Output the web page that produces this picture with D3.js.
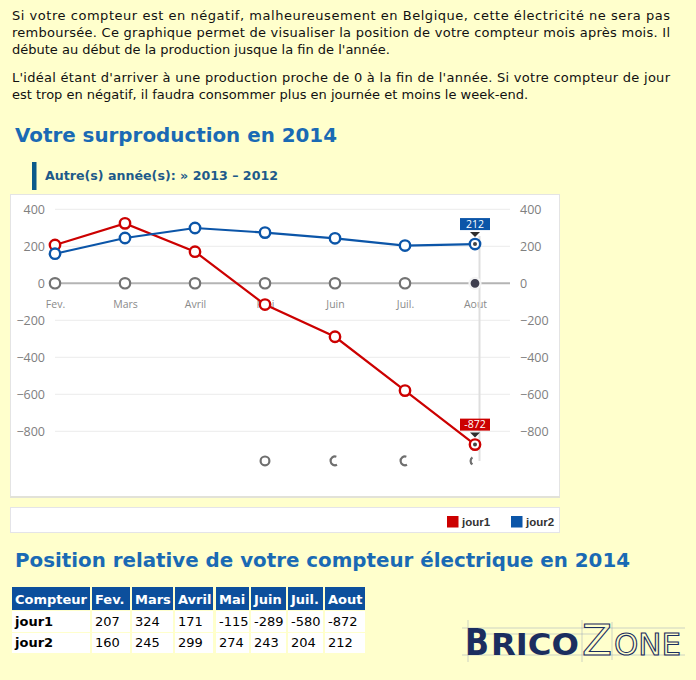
<!DOCTYPE html>
<html lang="fr">
<head>
  <meta charset="UTF-8">
  <title>Votre surproduction en 2014</title>
  <script src="https://d3js.org/d3.v7.min.js"></script>
  <style type="text/css">
    body { margin: 0; background: #ffffcc; }
    svg { display: block; }
  </style>
</head>
<body>
<script>
  // data
  var months = ['Fev.', 'Mars', 'Avril', 'Mai', 'Juin', 'Juil.', 'Aout'];
  var jour1 = [207, 324, 171, -115, -289, -580, -872];
  var jour2 = [160, 245, 299, 274, 243, 204, 212];
  var zeroSeries = [0, 0, 0, 0, 0, 0, 0];
  var yTicks = [400, 200, 0, -200, -400, -600, -800];
  var seriesNames = ['jour1', 'jour2'];
  var seriesColors = ['#cc0000', '#0b55a8'];
  // stray markers drawn under the plot in the original
  var strayMonths = ['Mai', 'Juin', 'Juil.', 'Aout'];
  var strayValue = -960;

  var introLines = [
    {text: 'Si votre compteur est en négatif, malheureusement en Belgique, cette électricité ne sera pas', justify: true},
    {text: 'remboursée. Ce graphique permet de visualiser la position de votre compteur mois après mois. Il', justify: true},
    {text: 'débute au début de la production jusque la fin de l\'année.', justify: false},
    {text: 'L\'idéal étant d\'arriver à une production proche de 0 à la fin de l\'année. Si votre compteur de jour', justify: true},
    {text: 'est trop en négatif, il faudra consommer plus en journée et moins le week-end.', justify: false}
  ];

  function main () {
    var W = 696, H = 680;
    var svg = d3.select('body').append('svg')
      .attr('width', W)
      .attr('height', H);

    svg.append('rect').attr('width', W).attr('height', H).attr('fill', '#ffffcc');

    // intro text
    var lineY = [20, 37, 54, 82, 99];
    svg.append('g')
      .style('font-family', '"DejaVu Sans", Verdana, sans-serif')
      .style('font-size', '13px')
      .attr('fill', '#111')
      .selectAll('text')
      .data(introLines)
      .enter()
      .append('text')
      .attr('x', 12)
      .attr('y', function (d, i) { return lineY[i]; })
      .attr('textLength', function (d) { return d.justify ? 658 : null; })
      .attr('lengthAdjust', 'spacing')
      .text(function (d) { return d.text; });

    // headings
    var heading = function (txt, y, len) {
      svg.append('text')
        .attr('x', 15).attr('y', y)
        .attr('textLength', len).attr('lengthAdjust', 'spacingAndGlyphs')
        .style('font-family', '"DejaVu Sans", Verdana, sans-serif')
        .style('font-size', '19.5px').style('font-weight', 'bold')
        .attr('fill', '#1a6ab4')
        .text(txt);
    };
    heading('Votre surproduction en 2014', 142, 322);
    heading('Position relative de votre compteur électrique en 2014', 567, 615);

    svg.append('rect').attr('x', 32).attr('y', 162).attr('width', 4.5).attr('height', 28).attr('fill', '#0b5a8a');
    svg.append('text')
      .attr('x', 45).attr('y', 180)
      .attr('textLength', 233).attr('lengthAdjust', 'spacingAndGlyphs')
      .style('font-family', '"DejaVu Sans", Verdana, sans-serif')
      .style('font-size', '13px').style('font-weight', 'bold')
      .attr('fill', '#1d5a8a')
      .text('Autre(s) année(s): » 2013 \u2013 2012');

    // chart panel
    svg.append('rect')
      .attr('x', 10.5).attr('y', 194.5).attr('width', 549).attr('height', 302)
      .attr('fill', '#fff').attr('stroke', '#e4e4e4');
    svg.append('line')
      .attr('x1', 10).attr('x2', 560).attr('y1', 497).attr('y2', 497)
      .attr('stroke', '#e2e2d8').attr('stroke-width', 2);

    var xScale = d3.scalePoint().domain(months).range([55, 475]);
    var yScale = d3.scaleLinear().domain([-800, 400]).range([431.3, 209.3]);
    var GRID_L = 55, GRID_R = 510;

    var chart = svg.append('g');

    // grid
    chart.selectAll('line.grid')
      .data(yTicks)
      .enter()
      .append('line')
      .attr('class', 'grid')
      .attr('x1', GRID_L).attr('x2', GRID_R)
      .attr('y1', function (d) { return yScale(d); })
      .attr('y2', function (d) { return yScale(d); })
      .attr('stroke', function (d) { return d === 0 ? '#b4b4b4' : '#ececec'; })
      .attr('stroke-width', function (d) { return d === 0 ? 2 : 1; });

    // y labels left & right
    var axisFont = '"Open Sans", "Liberation Sans", sans-serif';
    var leftAxis = chart.append('g')
      .attr('transform', 'translate(45,0)')
      .call(d3.axisLeft(yScale).tickValues(yTicks).tickSize(0).tickPadding(0).tickFormat(d3.format('d')));
    var rightAxis = chart.append('g')
      .attr('transform', 'translate(520,0)')
      .call(d3.axisRight(yScale).tickValues(yTicks).tickSize(0).tickPadding(0).tickFormat(d3.format('d')));
    [leftAxis, rightAxis].forEach(function (ax) {
      ax.select('.domain').remove();
      ax.selectAll('text')
        .style('font-family', axisFont)
        .style('font-size', '12.5px')
        .attr('fill', '#808080');
    });

    // month labels
    var xAxis = chart.append('g')
      .attr('transform', 'translate(0,' + (yScale(0) + 17) + ')')
      .call(d3.axisBottom(xScale).tickSize(0).tickPadding(0));
    xAxis.select('.domain').remove();
    xAxis.selectAll('text')
      .style('font-family', axisFont)
      .style('font-size', '10.5px')
      .attr('fill', '#8a8a8a');

    // crosshair on the hovered month
    var hover = months.length - 1;
    chart.append('line')
      .attr('x1', xScale(months[hover]) + 4.5).attr('x2', xScale(months[hover]) + 4.5)
      .attr('y1', 236).attr('y2', 461)
      .attr('stroke', '#dedede').attr('stroke-width', 2);

    // stray markers under the plot
    var strayArcs = [[0, 2 * Math.PI], [0.85 * Math.PI, 2.1 * Math.PI], [0.85 * Math.PI, 2.1 * Math.PI], [1.2 * Math.PI, 1.8 * Math.PI]];
    chart.selectAll('path.stray')
      .data(strayMonths)
      .enter()
      .append('path')
      .attr('class', 'stray')
      .attr('transform', function (d) {
        return 'translate(' + xScale(d) + ',' + yScale(strayValue) + ')';
      })
      .attr('d', function (d, i) {
        return d3.arc().innerRadius(3.3).outerRadius(5.5)
          .startAngle(strayArcs[i][0]).endAngle(strayArcs[i][1])();
      })
      .attr('fill', '#6f6f6f');

    // zero series markers
    chart.selectAll('circle.zero')
      .data(zeroSeries)
      .enter()
      .append('circle')
      .attr('class', 'zero')
      .attr('cx', function (d, i) { return xScale(months[i]); })
      .attr('cy', function (d) { return yScale(d); })
      .attr('r', function (d, i) { return i === hover ? 5.5 : 5.2; })
      .attr('fill', function (d, i) { return i === hover ? '#3e3e4e' : '#fff'; })
      .attr('stroke', function (d, i) { return i === hover ? '#f4f4f4' : '#737373'; })
      .attr('stroke-width', 2.2);

    // lines
    var allSeries = [jour1, jour2];
    var line = d3.line()
      .x(function (d, i) { return xScale(months[i]); })
      .y(function (d) { return yScale(d); });

    allSeries.forEach(function (vals, s) {
      chart.append('path')
        .datum(vals)
        .attr('d', line)
        .attr('fill', 'none')
        .attr('stroke', seriesColors[s])
        .attr('stroke-width', 2.2);
    });
    allSeries.forEach(function (vals, s) {
      var g = chart.append('g');
      g.selectAll('circle')
        .data(vals)
        .enter()
        .append('circle')
        .attr('cx', function (d, i) { return xScale(months[i]); })
        .attr('cy', function (d) { return yScale(d); })
        .attr('r', 5.2)
        .attr('fill', '#fff')
        .attr('stroke', seriesColors[s])
        .attr('stroke-width', 2.4);
      // hovered point dot
      g.append('circle')
        .attr('cx', xScale(months[hover]))
        .attr('cy', yScale(vals[hover]))
        .attr('r', 2)
        .attr('fill', '#444');

      // tooltip
      var tx = xScale(months[hover]), ty = yScale(vals[hover]);
      g.append('rect')
        .attr('x', tx - 15).attr('y', ty - 26)
        .attr('width', 30).attr('height', 12)
        .attr('fill', seriesColors[s]);
      g.append('path')
        .attr('d', 'M' + (tx - 5) + ',' + (ty - 12) + 'L' + (tx + 5) + ',' + (ty - 12) + 'L' + tx + ',' + (ty - 7) + 'Z')
        .attr('fill', '#2e2e2e');
      g.append('text')
        .attr('x', tx).attr('y', ty - 16.5)
        .attr('text-anchor', 'middle')
        .style('font-family', axisFont)
        .style('font-size', '10.5px')
        .attr('fill', '#fff')
        .text(vals[hover]);
    });

    // legend panel
    svg.append('rect')
      .attr('x', 10.5).attr('y', 507.5).attr('width', 549).attr('height', 25)
      .attr('fill', '#fff').attr('stroke', '#e4e4e8');
    var legend = svg.append('g').selectAll('g')
      .data(seriesNames)
      .enter()
      .append('g')
      .attr('transform', function (d, i) { return 'translate(' + (447 + i * 64) + ',516)'; });
    legend.append('rect')
      .attr('width', 11.5).attr('height', 11.5)
      .attr('fill', function (d, i) { return seriesColors[i]; });
    legend.append('text')
      .attr('x', 15).attr('y', 10)
      .style('font-family', '"Liberation Sans", Arial, sans-serif')
      .style('font-size', '11.5px').style('font-weight', 'bold')
      .attr('fill', '#333')
      .text(function (d) { return d; });

    // table
    var colEdges = [[12, 90], [92, 130], [132, 173], [175, 213], [216, 249], [251, 286], [288, 323], [325, 365]];
    var rowEdges = [[587, 610], [611, 632], [633, 653]];
    var tableRows = [
      ['Compteur'].concat(months),
      ['jour1'].concat(jour1),
      ['jour2'].concat(jour2)
    ];
    var table = svg.append('g')
      .style('font-family', '"DejaVu Sans", Verdana, sans-serif')
      .style('font-size', '13px');
    tableRows.forEach(function (row, r) {
      var rg = table.append('g');
      rg.selectAll('rect')
        .data(row)
        .enter()
        .append('rect')
        .attr('x', function (d, c) { return colEdges[c][0]; })
        .attr('y', rowEdges[r][0])
        .attr('width', function (d, c) { return colEdges[c][1] - colEdges[c][0]; })
        .attr('height', rowEdges[r][1] - rowEdges[r][0])
        .attr('fill', r === 0 ? '#0c4f9c' : '#fff');
      rg.selectAll('text')
        .data(row)
        .enter()
        .append('text')
        .attr('x', function (d, c) { return colEdges[c][0] + 3; })
        .attr('y', rowEdges[r][1] - 6)
        .style('font-weight', function (d, c) { return (r === 0 || c === 0) ? 'bold' : 'normal'; })
        .attr('fill', r === 0 ? '#fff' : '#000')
        .text(function (d) { return d; });
    });

    // BricoZone logo
    var logo = svg.append('g');
    var logoFont = '"DejaVu Sans", Verdana, sans-serif';
    var sketch = [[462, 628, 685, 628], [462, 655, 685, 655], [468, 620, 468, 662], [582, 620, 582, 662], [612, 622, 612, 660], [480, 634, 600, 634]];
    logo.selectAll('line')
      .data(sketch)
      .enter()
      .append('line')
      .attr('x1', function (d) { return d[0]; }).attr('y1', function (d) { return d[1]; })
      .attr('x2', function (d) { return d[2]; }).attr('y2', function (d) { return d[3]; })
      .attr('stroke', '#8a9ab8').attr('stroke-width', 0.6).attr('opacity', 0.7);
    var logoParts = [
      {t: 'B', x: 465, len: 24, size: 38, bold: true},
      {t: 'RICO', x: 491, len: 88, size: 30, bold: true},
      {t: 'Z', x: 582, len: 30, size: 43, bold: false},
      {t: 'ONE', x: 614, len: 67, size: 30, bold: false}
    ];
    logo.selectAll('text')
      .data(logoParts)
      .enter()
      .append('text')
      .attr('x', function (d) { return d.x; })
      .attr('y', 655)
      .attr('textLength', function (d) { return d.len; })
      .attr('lengthAdjust', 'spacingAndGlyphs')
      .style('font-family', logoFont)
      .style('font-size', function (d) { return d.size + 'px'; })
      .style('font-weight', function (d) { return d.bold ? 'bold' : 'normal'; })
      .attr('fill', function (d) { return d.bold ? '#1b2e5f' : 'none'; })
      .attr('stroke', function (d) { return d.bold ? 'none' : '#1b2e5f'; })
      .attr('stroke-width', 1.1)
      .text(function (d) { return d.t; });
  }

  main();
</script>
</body>
</html>
